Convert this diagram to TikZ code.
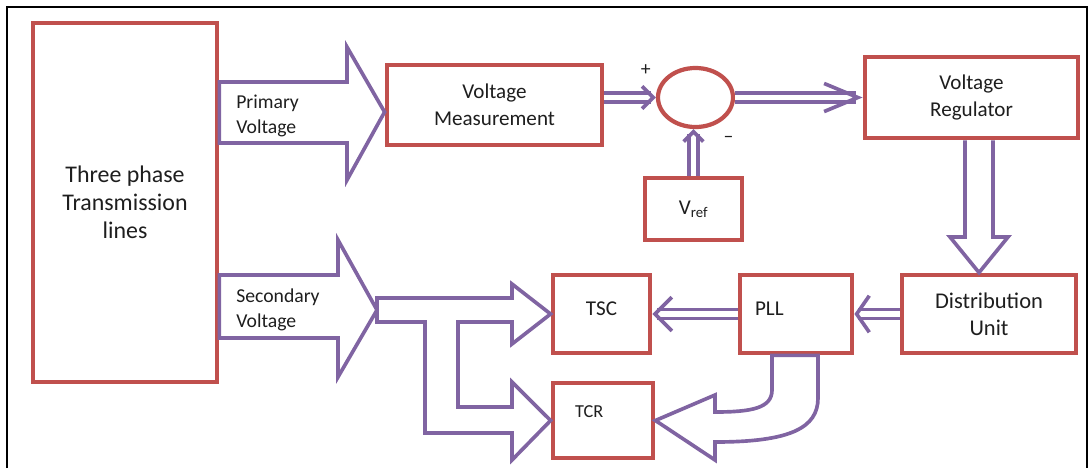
\documentclass[tikz,border=0pt]{standalone}
\usepackage{fontspec}
\setmainfont{Carlito}
\usepackage{tikz}
\usetikzlibrary{positioning, arrows.meta, shapes.geometric, calc}
\definecolor{boxred}{RGB}{192,80,77}
\definecolor{vio}{RGB}{128,100,162}
\definecolor{ink}{RGB}{30,30,30}
\tikzset{
  blockbox/.style ={rectangle, draw=boxred, line width=3.4pt, fill=white, inner sep=2pt,
                    align=center, text=ink, font=\fontsize{15}{19}\selectfont},
  sumcirc/.style  ={ellipse, draw=boxred, line width=3pt, inner sep=0pt,
                    minimum width=1.875cm, minimum height=1.475cm},
  hollow/.style   ={draw=vio, line width=2.6pt, line join=miter},
  dbl/.style      ={draw=vio, line width=2.6pt, double=white, double distance=3.8pt},
  vlabel/.style   ={font=\fontsize{14}{18}\selectfont, text=ink, align=left, anchor=west, inner sep=0pt},
  sign/.style     ={font=\fontsize{14}{14}\selectfont, text=ink, inner sep=0pt},
}
\begin{document}
\begin{tikzpicture}[x=0.025cm, y=-0.025cm]
\useasboundingbox (0,0) rectangle (1090,468);
\draw[line width=2pt] (7,468) -- (7,7) -- (1087,7) -- (1087,468);

\node[blockbox, minimum width=4.6cm, minimum height=8.975cm, font=\fontsize{17}{20}\selectfont] (lines) at (125,202.5)
  {Three phase\\Transmission\\lines};
\node[blockbox, minimum width=5.375cm, minimum height=2cm] (meas) at (494.5,105) {Voltage\\Measurement};
\node[sumcirc] (sum) at (695.5,97.5) {};
\node[blockbox, minimum width=2.425cm, minimum height=1.55cm] (vref) at (693.5,209) {V\textsubscript{ref}};
\node[blockbox, minimum width=5.325cm, minimum height=2.025cm] (reg) at (971.5,97.5) {Voltage\\Regulator};
\node[blockbox, minimum width=4.35cm, minimum height=1.95cm, font=\fontsize{16}{19}\selectfont] (dist) at (989,314)
  {Distribution\\Unit};
\node[blockbox, minimum width=2.8cm, minimum height=1.95cm, text width=2.05cm, align=left, text depth=8pt] (pll)
  at (796,314) {PLL};
\node[blockbox, minimum width=2.425cm, minimum height=1.95cm, text depth=8pt] (tsc) at (601.5,314) {TSC};
\node[blockbox, minimum width=2.5cm, minimum height=1.875cm, font=\fontsize{13}{16}\selectfont,
  text width=1.4cm, align=left, text depth=13pt] (tcr) at (603,420.5) {TCR};

\node[sign] (plus) at ($(sum.west)+(-10,-27)$) {+};
\node[sign] (minus) at ($(sum.south)+(33,10)$) {--};

\coordinate (fork) at (377,310);

\draw[hollow] (lines.east |- 0,82) -- (347,82) -- (347,47) -- (meas.west |- 0,112) -- (347,180) -- (347,143)
  -- (lines.east |- 0,143) -- cycle;
\node[vlabel] (primlbl) at (236,116) {Primary\\Voltage};
\draw[hollow] (lines.east |- 0,275) -- (338,275) -- (338,240) -- (fork) -- (338,377) -- (338,338)
  -- (lines.east |- 0,338) -- cycle;
\node[vlabel] (seclbl) at (236,310) {Secondary\\Voltage};

\draw[dbl, -{Straight Barb[length=8pt, width=16pt]}] (meas.east |- sum.west) -- (sum.west);
\draw[dbl, -{Straight Barb[length=7pt, width=14pt]}] (vref.north) -- (vref.north |- sum.south);
\draw[dbl, -{Straight Barb[length=24pt, width=20pt]}] (sum.east) -- (reg.west);
\draw[hollow] (965,0 |- reg.south) -- (965,237) -- (950,237) -- (979,0 |- dist.north) -- (1008,237) -- (993,237)
  -- (993,0 |- reg.south);
\draw[dbl, -{Straight Barb[length=9pt, width=26pt]}] (dist.west) -- (pll.east);
\draw[dbl, -{Straight Barb[length=12pt, width=24pt]}] (pll.west) -- (tsc.east);

\draw[hollow] (fork |- 0,298) -- (512,298) -- (512,284) -- (tsc.west) -- (512,344) -- (512,322) -- (458,322)
  -- (458,407) -- (512,407) -- (512,382) -- (tcr.west) -- (512,460) -- (512,433) -- (425,433) -- (425,322)
  -- (fork |- 0,322) -- cycle;
\draw[hollow] (772,0 |- pll.south) -- (772,390) .. controls (772,408) and (752,412) .. (715,412) -- (715,395)
  -- (tcr.east) -- (715,460) -- (715,442) .. controls (790,442) and (818,428) .. (818,398)
  -- (818,0 |- pll.south) -- cycle;
\end{tikzpicture}
\end{document}
